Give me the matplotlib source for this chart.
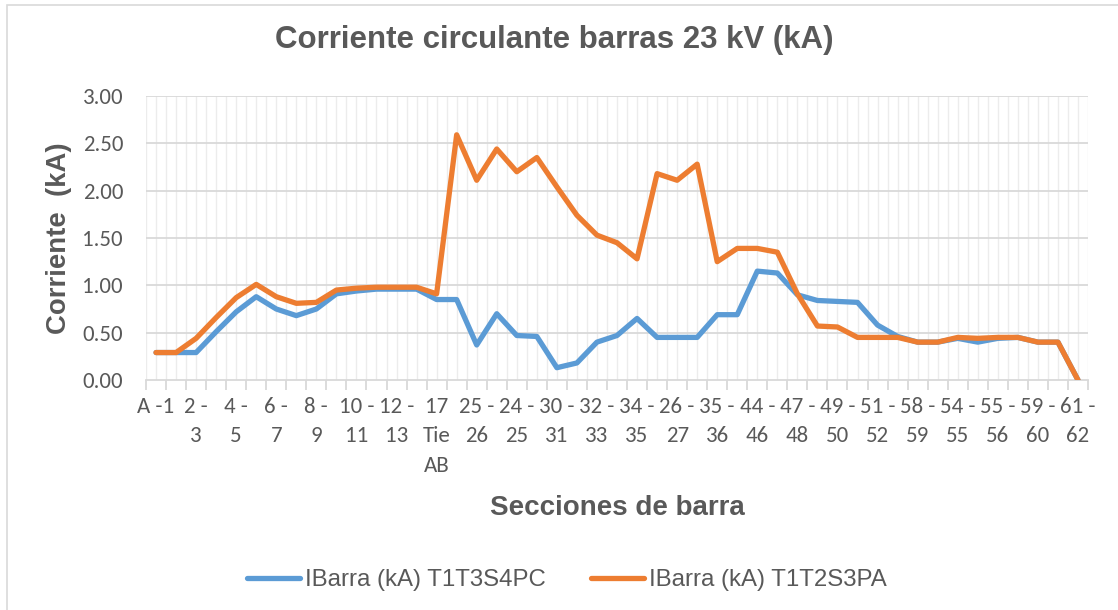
import numpy as np
import matplotlib
matplotlib.use("Agg")
import matplotlib.pyplot as plt
from matplotlib.patches import Rectangle

# Secciones de barra (only every other category label is shown in the original)
labels = ["A -1", "2 -\n3", "4 -\n5", "6 -\n7", "8 -\n9", "10 -\n11", "12 -\n13",
          "17\nTie\nAB", "25 -\n26", "24 -\n25", "30 -\n31", "32 -\n33", "34 -\n35",
          "26 -\n27", "35 -\n36", "44 -\n46", "47 -\n48", "49 -\n50", "51 -\n52",
          "58 -\n59", "54 -\n55", "55 -\n56", "59 -\n60", "61 -\n62"]

# IBarra (kA), 47 sections
t1t3s4pc = [0.29, 0.29, 0.29, 0.51, 0.72, 0.88, 0.75, 0.68, 0.75, 0.91, 0.94, 0.96, 0.96, 0.96, 0.85,
            0.85, 0.37, 0.70, 0.47, 0.46, 0.13, 0.18, 0.40,
            0.47, 0.65, 0.45, 0.45, 0.45, 0.69, 0.69, 1.15, 1.13,
            0.90, 0.84, 0.83, 0.82, 0.58, 0.46, 0.40, 0.40, 0.44, 0.40, 0.44, 0.45, 0.40, 0.40, 0.00]
t1t2s3pa = [0.29, 0.29, 0.44, 0.66, 0.87, 1.01, 0.88, 0.81, 0.82, 0.95, 0.97, 0.98, 0.98, 0.98, 0.91,
            2.59, 2.11, 2.44, 2.20, 2.35, 2.04, 1.74, 1.53,
            1.45, 1.28, 2.18, 2.11, 2.28, 1.25, 1.39, 1.39, 1.35,
            0.91, 0.57, 0.56, 0.45, 0.45, 0.45, 0.40, 0.40, 0.45, 0.44, 0.45, 0.45, 0.40, 0.40, 0.00]

gray = "#595959"
grid = "#d9d9d9"
W, H = 1118, 610

fig = plt.figure(figsize=(W / 100, H / 100), dpi=100)
# chart frame (runs off the right and bottom edge)
fig.patches.append(Rectangle((7 / W, -0.1), 1.2, 1 - 5 / H + 0.1, transform=fig.transFigure,
                             fill=False, edgecolor=grid, linewidth=1.2))

ax = fig.add_axes([146 / W, 1 - 380 / H, (1088 - 146) / W, (380 - 96) / H])
n = len(t1t2s3pa)
x = np.arange(n)

# grid
for gx in np.arange(-0.5, n, 0.5):
    ax.axvline(gx, color="#ececec", lw=1, zorder=0)
for gy in np.arange(0.5, 3.01, 0.5):
    ax.axhline(gy, color=grid, lw=1.3, zorder=0)

ax.plot(x, t1t3s4pc, color="#5B9BD5", lw=3.8, solid_joinstyle="round",
        solid_capstyle="round", label="IBarra (kA) T1T3S4PC", zorder=3)
ax.plot(x, t1t2s3pa, color="#ED7D31", lw=3.8, solid_joinstyle="round",
        solid_capstyle="round", label="IBarra (kA) T1T2S3PA", zorder=4)

ax.set_xlim(-0.5, n - 0.5)
ax.set_ylim(0, 3.0)
for s in ["top", "right", "left"]:
    ax.spines[s].set_visible(False)
ax.spines["bottom"].set_color(grid)
ax.spines["bottom"].set_linewidth(1.3)

ax.set_xticks(np.arange(-0.5, n, 1))
ax.set_xticklabels([])
ax.tick_params(axis="x", which="major", length=7, color=grid, width=1.3)
ax.set_xticks(x[::2], minor=True)
ax.set_xticklabels(labels, minor=True, fontfamily="Carlito", fontsize=16.5,
                   color=gray, linespacing=1.6, va="top")
ax.tick_params(axis="x", which="minor", length=0, pad=12)

ax.set_yticks(np.arange(0, 3.01, 0.5))
ax.set_yticklabels([f"{v:.2f}" for v in np.arange(0, 3.01, 0.5)],
                   fontfamily="Carlito", fontsize=16.5, color=gray)
ax.tick_params(axis="y", length=0, pad=16.5)

fig.text(554 / W, 1 - 40 / H, "Corriente circulante barras 23 kV (kA)", ha="center", va="center",
         fontfamily="Liberation Sans", fontweight="bold", fontsize=22.5, color=gray)
fig.text(59 / W, 1 - 238 / H, "Corriente  (kA)", ha="center", va="center", rotation=90,
         fontfamily="Liberation Sans", fontweight="bold", fontsize=19.8, color=gray)
fig.text(617 / W, 1 - 508 / H, "Secciones de barra", ha="center", va="center",
         fontfamily="Liberation Sans", fontweight="bold", fontsize=20, color=gray)

leg = fig.legend(loc="center", bbox_to_anchor=(567 / W, 1 - 580 / H), ncol=2, frameon=False,
                 handlelength=2.2, handletextpad=0.2, columnspacing=1.9,
                 prop={"family": "Liberation Sans", "size": 17.3})
for t in leg.get_texts():
    t.set_color(gray)

fig.savefig("out.png", dpi=100)
